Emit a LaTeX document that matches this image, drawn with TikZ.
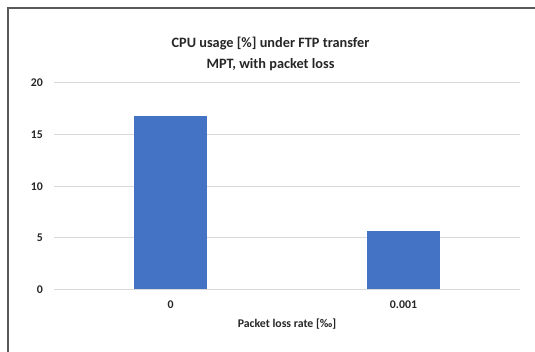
\documentclass[tikz,border=0pt]{standalone}
\usepackage{fontspec}
\setmainfont{Carlito}
\definecolor{barblue}{HTML}{4472C4}
\definecolor{gridgray}{HTML}{D9D9D9}
\definecolor{framegray}{HTML}{595959}
\definecolor{txt}{HTML}{262626}
\tikzset{
  lbl/.style={font=\bfseries\fontsize{11.8}{13}\selectfont, text=txt, inner sep=0pt},
  ttl/.style={font=\bfseries\fontsize{14.3}{21}\selectfont, text=txt, align=center, inner sep=0pt},
  bar/.style={fill=barblue}
}
\begin{document}
\begin{tikzpicture}[x=1pt,y=-1pt]
    \useasboundingbox (0,0) rectangle (535,352);
    % chart frame (top and left edge only)
    \draw[framegray,line width=1.1pt] (8,352) -- (8,8) -- (535,8);
    % grid lines and y labels
    \foreach \v in {0,5,...,20}{
        \draw[gridgray,line width=1pt] (54,{289.7-10.35*\v}) -- (520,{289.7-10.35*\v});
        \node[lbl,anchor=east] (y\v) at (43,{289.7-10.35*\v}) {\v};
    }
    % bars
    \fill[bar] (134,289.2) rectangle (207,116.3);
    \fill[bar] (367,289.2) rectangle (440,231);
    % x labels
    \node[lbl] (x0) at (170.5,305) {0};
    \node[lbl] (x1) at (403.5,305) {0.001};
    \node[lbl] (xttl) at (287,324) {Packet loss rate [‰]};
    % title
    \node[ttl] (ttl) at (270.5,54) {CPU usage [\%] under FTP transfer\\MPT, with packet loss};
\end{tikzpicture}
\end{document}
